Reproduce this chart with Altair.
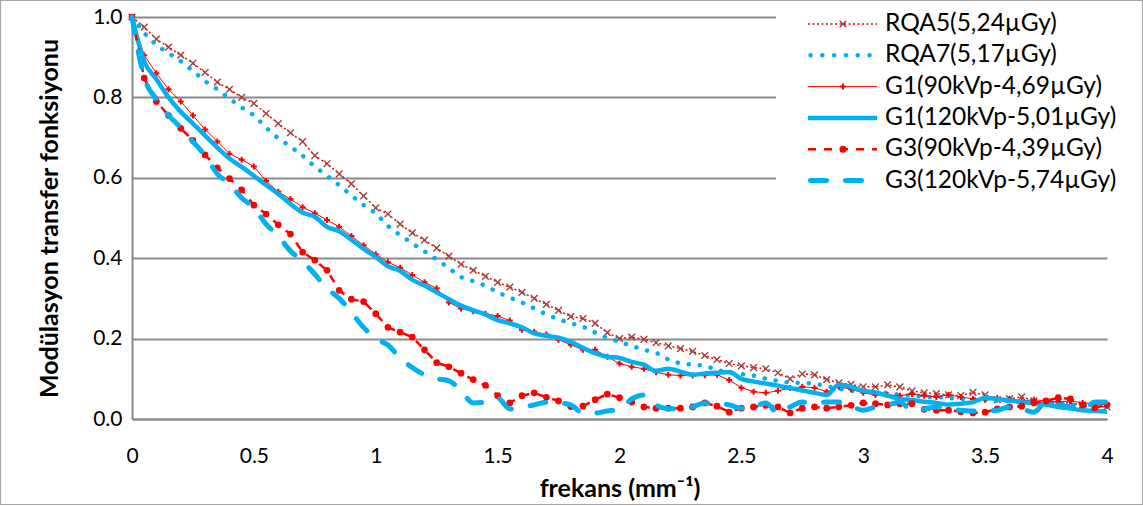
import altair as alt
import pandas as pd

freq = [0.0, 0.05, 0.1, 0.15, 0.2, 0.25, 0.3, 0.35, 0.4, 0.45, 0.5, 0.55, 0.6, 0.65, 0.7, 0.75,
        0.8, 0.85, 0.9, 0.95, 1.0, 1.05, 1.1, 1.15, 1.2, 1.25, 1.3, 1.35, 1.4, 1.45, 1.5, 1.55,
        1.6, 1.65, 1.7, 1.75, 1.8, 1.85, 1.9, 1.95, 2.0, 2.05, 2.1, 2.15, 2.2, 2.25, 2.3, 2.35,
        2.4, 2.45, 2.5, 2.55, 2.6, 2.65, 2.7, 2.75, 2.8, 2.85, 2.9, 2.95, 3.0, 3.05, 3.1, 3.15,
        3.2, 3.25, 3.3, 3.35, 3.4, 3.45, 3.5, 3.55, 3.6, 3.65, 3.7, 3.75, 3.8, 3.85, 3.9, 3.95, 4.0]

rqa5 = [1.0, 0.975, 0.945, 0.925, 0.905, 0.885, 0.862, 0.838, 0.82, 0.80, 0.785, 0.76, 0.735, 0.712, 0.69, 0.655,
        0.635, 0.61, 0.585, 0.555, 0.525, 0.51, 0.485, 0.463, 0.445, 0.425, 0.405, 0.385, 0.37, 0.355, 0.34, 0.328,
        0.315, 0.30, 0.285, 0.27, 0.255, 0.25, 0.238, 0.215, 0.20, 0.204, 0.198, 0.19, 0.182, 0.175, 0.168, 0.158,
        0.148, 0.138, 0.132, 0.128, 0.125, 0.115, 0.10, 0.112, 0.11, 0.098, 0.09, 0.086, 0.08, 0.08, 0.085, 0.08,
        0.07, 0.065, 0.063, 0.06, 0.058, 0.066, 0.06, 0.048, 0.05, 0.055, 0.045, 0.042, 0.042, 0.04, 0.035, 0.032, 0.03]

rqa7 = [1.0, 0.96, 0.93, 0.91, 0.89, 0.866, 0.84, 0.82, 0.797, 0.775, 0.756, 0.725, 0.698, 0.678, 0.655, 0.628,
        0.605, 0.582, 0.556, 0.532, 0.512, 0.48, 0.457, 0.437, 0.417, 0.397, 0.375, 0.353, 0.343, 0.332, 0.315, 0.302,
        0.29, 0.275, 0.26, 0.248, 0.238, 0.23, 0.215, 0.202, 0.192, 0.182, 0.172, 0.165, 0.148, 0.138, 0.135, 0.133,
        0.122, 0.115, 0.112, 0.108, 0.10, 0.095, 0.09, 0.09, 0.088, 0.082, 0.075, 0.07, 0.068, 0.065, 0.065, 0.06,
        0.058, 0.055, 0.055, 0.052, 0.05, 0.05, 0.048, 0.045, 0.045, 0.042, 0.04, 0.04, 0.038, 0.036, 0.034, 0.032, 0.03]

g1_90 = [1.0, 0.905, 0.86, 0.82, 0.79, 0.755, 0.72, 0.69, 0.66, 0.645, 0.628, 0.592, 0.565, 0.547, 0.527, 0.512,
         0.495, 0.478, 0.455, 0.432, 0.41, 0.39, 0.376, 0.358, 0.34, 0.325, 0.29, 0.275, 0.268, 0.262, 0.256, 0.245,
         0.222, 0.217, 0.21, 0.197, 0.185, 0.172, 0.172, 0.155, 0.138, 0.13, 0.125, 0.116, 0.11, 0.108, 0.108, 0.109,
         0.11, 0.097, 0.078, 0.068, 0.065, 0.07, 0.077, 0.08, 0.078, 0.068, 0.08, 0.074, 0.065, 0.06, 0.06, 0.058,
         0.062, 0.058, 0.055, 0.06, 0.055, 0.05, 0.048, 0.052, 0.05, 0.045, 0.048, 0.045, 0.042, 0.045, 0.04, 0.038, 0.035]

g1_120 = [1.0, 0.89, 0.845, 0.80, 0.764, 0.735, 0.705, 0.675, 0.648, 0.627, 0.605, 0.582, 0.56, 0.535, 0.513, 0.503,
          0.478, 0.467, 0.446, 0.423, 0.403, 0.38, 0.368, 0.346, 0.332, 0.315, 0.298, 0.282, 0.27, 0.26, 0.246, 0.238,
          0.228, 0.213, 0.207, 0.202, 0.192, 0.177, 0.164, 0.155, 0.152, 0.142, 0.135, 0.12, 0.125, 0.118, 0.11, 0.113,
          0.115, 0.117, 0.10, 0.093, 0.088, 0.083, 0.077, 0.071, 0.065, 0.06, 0.085, 0.08, 0.07, 0.066, 0.058, 0.05,
          0.047, 0.043, 0.04, 0.036, 0.038, 0.042, 0.052, 0.05, 0.046, 0.042, 0.04, 0.036, 0.03, 0.026, 0.022, 0.02, 0.018]

g3_90 = [1.0, 0.848, 0.79, 0.755, 0.723, 0.693, 0.657, 0.625, 0.598, 0.57, 0.532, 0.51, 0.483, 0.46, 0.415, 0.395,
         0.37, 0.32, 0.298, 0.292, 0.262, 0.228, 0.216, 0.204, 0.172, 0.14, 0.13, 0.114, 0.098, 0.084, 0.058, 0.04,
         0.058, 0.065, 0.054, 0.045, 0.031, 0.032, 0.048, 0.062, 0.053, 0.042, 0.03, 0.027, 0.027, 0.027, 0.03, 0.04,
         0.032, 0.017, 0.027, 0.03, 0.034, 0.03, 0.015, 0.027, 0.03, 0.027, 0.03, 0.034, 0.04, 0.038, 0.035, 0.038,
         0.038, 0.024, 0.022, 0.022, 0.018, 0.015, 0.017, 0.025, 0.03, 0.032, 0.04, 0.045, 0.053, 0.05, 0.035, 0.028, 0.035]

g3_120 = [1.0, 0.85, 0.795, 0.755, 0.725, 0.69, 0.655, 0.61, 0.585, 0.55, 0.525, 0.485, 0.455, 0.418, 0.393, 0.36,
          0.325, 0.30, 0.265, 0.228, 0.20, 0.184, 0.152, 0.128, 0.11, 0.10, 0.095, 0.07, 0.04, 0.042, 0.052, 0.025,
          0.03, 0.035, 0.042, 0.04, 0.035, 0.015, 0.015, 0.02, 0.024, 0.05, 0.06, 0.035, 0.026, 0.025, 0.03, 0.04,
          0.04, 0.035, 0.027, 0.03, 0.04, 0.015, 0.03, 0.042, 0.04, 0.042, 0.042, 0.032, 0.022, 0.03, 0.035, 0.042,
          0.022, 0.025, 0.03, 0.025, 0.022, 0.02, 0.02, 0.022, 0.03, 0.025, 0.017, 0.042, 0.035, 0.03, 0.022, 0.042, 0.042]

names = ["RQA5(5,24µGy)", "RQA7(5,17µGy)", "G1(90kVp-4,69µGy)",
         "G1(120kVp-5,01µGy)", "G3(90kVp-4,39µGy)", "G3(120kVp-5,74µGy)"]
series_vals = [rqa5, rqa7, g1_90, g1_120, g3_90, g3_120]

x_ticks = [0, 0.5, 1, 1.5, 2, 2.5, 3, 3.5, 4]
y_ticks = [0.0, 0.2, 0.4, 0.6, 0.8, 1.0]

rows = []
for name, vals in zip(names, series_vals):
    for f, v in zip(freq, vals):
        rows.append({"freq": f, "mtf": v, "series": name})
df = pd.DataFrame(rows)

RED = "#ff0000"
BLUE = "#00b0f0"
BROWN = "#a0403c"
GRID = "#8a8a8a"
FONT = "Lato"

X = alt.X("freq:Q", scale=alt.Scale(domain=[0, 4], nice=False, zero=False),
          axis=alt.Axis(values=x_ticks, format="~g", grid=False, ticks=False, labelFlush=False,
                        title="frekans (mm⁻¹)", labelPadding=26, titlePadding=10))
Y = alt.Y("mtf:Q", scale=alt.Scale(domain=[0, 1], nice=False),
          axis=alt.Axis(values=y_ticks, format=".1f", grid=True, ticks=False, labelFlush=False,
                        title="Modülasyon transfer fonksiyonu", labelPadding=10, titlePadding=30))

XPATH = "M-1,-1L1,1M-1,1L1,-1"
PPATH = "M-1,0L1,0M0,-1L0,1"


def sub(name):
    return alt.Chart(df).transform_filter(alt.datum.series == name)


layers = []
# RQA5
layers.append(sub(names[0]).mark_line(color=RED, strokeWidth=1.5, strokeDash=[2, 2.5]).encode(x=X, y=Y))
layers.append(sub(names[0]).mark_point(shape=XPATH, filled=False, color=BROWN, strokeWidth=1.4,
                                       size=45, opacity=1).encode(x=X, y=Y))
# RQA7
layers.append(sub(names[1]).mark_line(color=BLUE, strokeWidth=4.5, strokeDash=[0.1, 11],
                                      strokeCap="round").encode(x=X, y=Y))
# G1 90
layers.append(sub(names[2]).mark_line(color=RED, strokeWidth=1).encode(x=X, y=Y))
layers.append(sub(names[2]).mark_point(shape=PPATH, filled=False, color=RED, strokeWidth=2,
                                       size=36, opacity=1).encode(x=X, y=Y))
# G1 120
layers.append(sub(names[3]).mark_line(color=BLUE, strokeWidth=4.5, interpolate="monotone").encode(x=X, y=Y))
# G3 90
layers.append(sub(names[4]).mark_line(color=RED, strokeWidth=2.5, strokeDash=[8, 8]).encode(x=X, y=Y))
layers.append(sub(names[4]).mark_circle(color=RED, size=45, opacity=1).encode(x=X, y=Y))
# G3 120
layers.append(sub(names[5]).mark_line(color=BLUE, strokeWidth=5, strokeDash=[16, 19], strokeCap="round",
                                      interpolate="monotone").encode(x=X, y=Y))

one = pd.DataFrame({"k": [0]})

# legend background
layers.append(alt.Chart(one).mark_rect(fill="white").encode(
    x=alt.value(644), x2=alt.value(993), y=alt.value(-12), y2=alt.value(181)))

# legend rows
row_y = [7 + 31.3 * i for i in range(len(names))]
sx0, sx1, mx, tx = 676, 745, 711, 753
legend_line_styles = [
    dict(color=RED, strokeWidth=1.5, strokeDash=[2, 2.5]),
    dict(color=BLUE, strokeWidth=4.5, strokeDash=[0.1, 11.7], strokeCap="round"),
    dict(color=RED, strokeWidth=1),
    dict(color=BLUE, strokeWidth=4.5),
    dict(color=RED, strokeWidth=2.5, strokeDash=[8, 8]),
    dict(color=BLUE, strokeWidth=5, strokeDash=[16, 19], strokeCap="round"),
]
for i, name in enumerate(names):
    yy = row_y[i]
    st = legend_line_styles[i]
    x0 = sx0 + (2.5 if i in (1, 5) else 0)
    layers.append(alt.Chart(one).mark_rule(**st).encode(
        x=alt.value(x0), x2=alt.value(sx1), y=alt.value(yy)))
    if i == 0:
        layers.append(alt.Chart(one).mark_point(shape=XPATH, filled=False, color=BROWN, strokeWidth=1.4,
                                                size=45, opacity=1).encode(x=alt.value(mx), y=alt.value(yy)))
    if i == 2:
        layers.append(alt.Chart(one).mark_point(shape=PPATH, filled=False, color=RED, strokeWidth=2,
                                                size=36, opacity=1).encode(x=alt.value(mx), y=alt.value(yy)))
    if i == 4:
        layers.append(alt.Chart(one).mark_circle(color=RED, size=50, opacity=1).encode(
            x=alt.value(mx), y=alt.value(yy)))
    layers.append(alt.Chart(pd.DataFrame({"series": [name]})).mark_text(
        align="left", baseline="middle", font=FONT, fontSize=24.5, color="black").encode(
        x=alt.value(tx), y=alt.value(yy), text="series:N"))

# outer chart border
layers.append(alt.Chart(one).mark_rect(fillOpacity=0, stroke="#a6a6a6", strokeWidth=1.2).encode(
    x=alt.value(-131.5), x2=alt.value(1010.5), y=alt.value(-16.5), y2=alt.value(487.5)))

chart = alt.layer(*layers).properties(
    width=975, height=402,
    padding={"left": 132, "top": 17, "right": 36, "bottom": 87},
    autosize=alt.AutoSizeParams(type="none"),
    background="white",
).configure_view(stroke=None).configure_axis(
    domainColor=GRID, domainWidth=2, gridColor=GRID, gridWidth=2,
    labelFont=FONT, labelFontSize=21, labelColor="black",
    titleFont=FONT, titleFontSize=25, titleFontWeight="bold", titleColor="black",
)

chart.save("out.html", embed_options={"renderer": "svg", "actions": False})
